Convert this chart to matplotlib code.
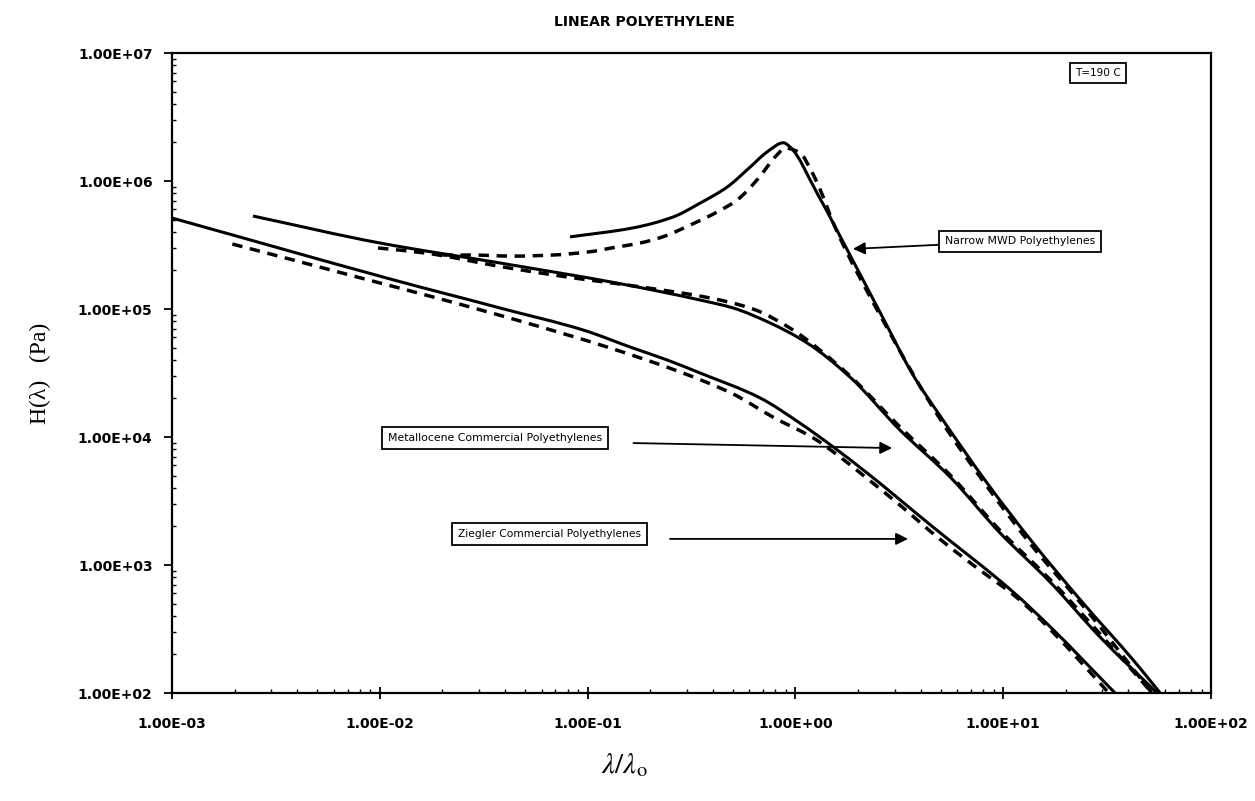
import numpy as np
import matplotlib.pyplot as plt
from matplotlib.path import Path
from matplotlib.patches import PathPatch
from matplotlib.ticker import NullFormatter

plt.rcParams['mathtext.fontset'] = 'stix'

# relaxation spectra H(lambda), solid = measured, dashed = model
narrow_t = [0.0822, 0.165, 0.258, 0.348, 0.469, 0.605, 0.73, 0.875, 0.942,
            1.27, 1.83, 2.70, 3.68, 4.97, 8.36, 13.9, 24.2, 42.2, 56.9]
narrow_h = [3.66e5, 4.30e5, 5.24e5, 6.73e5, 8.97e5, 1.285e6, 1.687e6, 1.99e6, 1.845e6,
            8.05e5, 2.64e5, 7.91e4, 3.05e4, 1.46e4, 4.37e3, 1.49e3, 505, 181, 100]

narrow_fit_t = [0.020, 0.0272, 0.0438, 0.0675, 0.1005, 0.138, 0.179, 0.236, 0.304, 0.42,
                0.524, 0.653, 0.815, 0.891, 1.05, 1.20, 1.36, 1.52, 2.70, 4.97,
                8.36, 13.9, 24.2, 52.0]
narrow_fit_h = [2.64e5, 2.64e5, 2.59e5, 2.64e5, 2.79e5, 3.05e5, 3.28e5, 3.72e5, 4.45e5, 5.73e5,
                7.11e5, 1.02e6, 1.60e6, 1.81e6, 1.66e6, 1.175e6, 7.50e5, 4.70e5, 7.6e4, 1.38e4,
                4.1e3, 1.38e3, 480, 100]

metallocene_t = [2.45e-3, 1.0e-2, 3.78e-2, 0.138, 0.348, 0.501, 0.755, 1.14, 1.83, 3.18,
                 5.55, 9.66, 16.8, 29.2, 55.0]
metallocene_h = [5.33e5, 3.28e5, 2.29e5, 1.596e5, 1.175e5, 1.019e5, 7.78e4, 5.42e4, 2.94e4, 1.135e4,
                 4.87e3, 1.778e3, 736, 274, 100]

metallocene_fit_t = [9.8e-3, 1.65e-2, 3.92e-2, 0.0796, 0.179, 0.388, 0.625, 0.973, 1.31, 1.83,
                     3.18, 5.55, 9.66, 16.8, 29.2, 52.0]
metallocene_fit_h = [3.0e5, 2.74e5, 2.13e5, 1.78e5, 1.49e5, 1.22e5, 1.0e5, 6.86e4, 4.79e4, 3.0e4,
                     1.2e4, 5.05e3, 1.86e3, 770, 290, 100]

ziegler_t = [1.0e-3, 1.56e-2, 2.72e-2, 3.78e-2, 9.5e-2, 0.165, 0.241, 0.348, 0.676, 1.05,
             1.52, 2.21, 4.59, 11.1, 16.8, 34.5]
ziegler_h = [5.14e5, 1.486e5, 1.175e5, 1.019e5, 6.86e4, 4.96e4, 4.0e4, 3.16e4, 2.02e4, 1.285e4,
             8.36e3, 5.24e3, 1.98e3, 620, 330, 100]

ziegler_fit_t = [1.95e-3, 4.0e-3, 7.76e-3, 1.88e-2, 5.1e-2, 0.124, 0.279, 0.501, 0.78, 1.22,
                 1.64, 2.05, 3.18, 4.80, 7.16, 12.05, 18.2, 26.2, 32.2]
ziegler_fit_h = [3.22e5, 2.37e5, 1.78e5, 1.22e5, 7.78e4, 5.05e4, 3.22e4, 2.17e4, 1.43e4, 9.82e3,
                 6.98e3, 5.24e3, 2.94e3, 1.66e3, 1000, 530, 275, 145, 100]

xticks = [1e-3, 1e-2, 1e-1, 1e0, 1e1, 1e2]
yticks = [1e2, 1e3, 1e4, 1e5, 1e6, 1e7]


def smooth_line(ax, t, h, **style):
    """Smoothed line through the points (monotone cubic in log-log space)."""
    x = np.log10(t)
    y = np.log10(h)
    dx = np.diff(x)
    d = np.diff(y) / dx
    m = np.empty_like(x)
    m[0], m[-1] = d[0], d[-1]
    for k in range(1, len(x) - 1):
        if d[k - 1] * d[k] <= 0:
            m[k] = 0.0
        else:
            w1 = 2 * dx[k] + dx[k - 1]
            w2 = dx[k] + 2 * dx[k - 1]
            m[k] = (w1 + w2) / (w1 / d[k - 1] + w2 / d[k])
    verts = [(x[0], y[0])]
    codes = [Path.MOVETO]
    for k in range(len(x) - 1):
        step = dx[k] / 3
        verts += [(x[k] + step, y[k] + m[k] * step),
                  (x[k + 1] - step, y[k + 1] - m[k + 1] * step),
                  (x[k + 1], y[k + 1])]
        codes += [Path.CURVE4] * 3
    verts = 10 ** np.array(verts)
    ax.add_patch(PathPatch(Path(verts, codes), fill=False, **style))


fig = plt.figure(figsize=(12.55, 8.01), dpi=100)
ax = fig.add_axes([0.1371, 0.1348, 0.8279, 0.7990])
ax.set_xscale('log')
ax.set_yscale('log')
ax.set_xlim(1e-3, 1e2)
ax.set_ylim(1e2, 1e7)

solid = dict(edgecolor='black', lw=2.2, capstyle='butt', joinstyle='round')
dashed = dict(edgecolor='black', lw=2.5, linestyle=(0, (3.0, 2.2)), capstyle='butt')

smooth_line(ax, narrow_t, narrow_h, **solid)
smooth_line(ax, narrow_fit_t, narrow_fit_h, **dashed)
smooth_line(ax, metallocene_t, metallocene_h, **solid)
smooth_line(ax, metallocene_fit_t, metallocene_fit_h, **dashed)
smooth_line(ax, ziegler_t, ziegler_h, **solid)
smooth_line(ax, ziegler_fit_t, ziegler_fit_h, **dashed)

ax.set_xticks(xticks, [f'{v:.2E}' for v in xticks], fontweight='bold', fontsize=10)
ax.set_yticks(yticks, [f'{v:.2E}' for v in yticks], fontweight='bold', fontsize=10)
ax.xaxis.set_minor_formatter(NullFormatter())
ax.yaxis.set_minor_formatter(NullFormatter())
ax.tick_params(axis='x', which='major', direction='inout', length=8, width=1.3, pad=13)
ax.tick_params(axis='y', which='major', direction='out', length=6, width=1.3, pad=8)
ax.tick_params(which='minor', direction='in', length=3, width=1.0)
for side in ax.spines.values():
    side.set_linewidth(1.6)

# labelled boxes with arrows pointing at each family of curves
box = dict(boxstyle='square,pad=0.55', fc='white', ec='black', lw=1.3)
arrow = dict(arrowstyle='-|>', color='black', lw=1.3, mutation_scale=18,
             shrinkA=0, shrinkB=0)

ax.annotate('Narrow MWD Polyethylenes', xy=(1.89, 2.95e5), xytext=(12.05, 3.37e5),
            fontsize=7.8, ha='center', va='center', bbox=box,
            arrowprops=dict(arrow, relpos=(0, 0.2)))

ax.text(3.58e-2, 9.9e3, 'Metallocene Commercial Polyethylenes', fontsize=7.8,
        ha='center', va='center', bbox=box)
ax.annotate('', xy=(2.92, 8.2e3), xytext=(0.166, 8.97e3), arrowprops=arrow)

ax.text(6.56e-2, 1.75e3, 'Ziegler Commercial Polyethylenes', fontsize=7.7,
        ha='center', va='center', bbox=box)
ax.annotate('', xy=(3.48, 1.6e3), xytext=(0.249, 1.6e3), arrowprops=arrow)

ax.text(28.6, 6.98e6, 'T=190 C', fontsize=7.6, ha='center', va='center',
        bbox=dict(boxstyle='square,pad=0.45', fc='white', ec='black', lw=1.3))

fig.text(644 / 1255, 1 - 22 / 801, 'LINEAR POLYETHYLENE', ha='center', va='center',
         fontweight='bold', fontsize=10)
fig.text(40 / 1255, 1 - 373 / 801, 'H(λ)   (Pa)', rotation=90, ha='center', va='center',
         family='Liberation Serif', fontsize=17)
fig.text(624 / 1255, 1 - 765 / 801, r'$\lambda/\lambda_{\rm o}$', ha='center', va='center',
         fontsize=21)

fig.savefig('out.png', dpi=100, facecolor='white')
